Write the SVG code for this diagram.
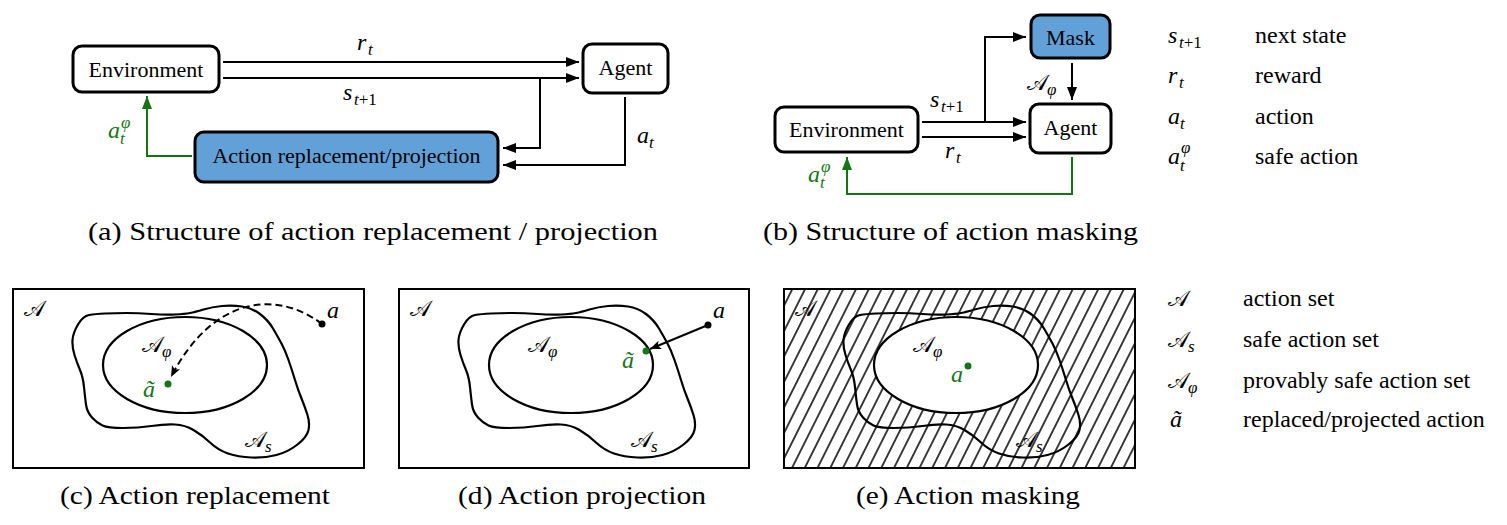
<svg xmlns="http://www.w3.org/2000/svg" xmlns:xlink="http://www.w3.org/1999/xlink" width="1507" height="525" viewBox="0 0 1507 525">
<style>
.box{fill:#fff;stroke:#000;stroke-width:3}
.blue{fill:#62a0d8}
.lbl{font-family:"Liberation Serif","Times New Roman",Times,"DejaVu Serif",serif;font-size:22px;fill:#000}
.m{font-family:"Liberation Serif","Times New Roman",Times,"DejaVu Serif",serif;font-style:italic;font-size:24px;fill:#000}
.s{font-size:17px}
.up{font-style:normal}
.cal{font-family:"DejaVu Serif","DejaVu Sans","Noto Sans",serif;font-style:normal;font-size:22px}
.cap{font-family:"Liberation Serif","Times New Roman",Times,"DejaVu Serif",serif;font-size:25px;fill:#000}
.leg{font-family:"Liberation Serif","Times New Roman",Times,"DejaVu Serif",serif;font-size:24px;fill:#000}
.conn{fill:none;stroke:#000;stroke-width:2}
.g{stroke:#157515}
.gt{fill:#157515}
.frame{fill:none;stroke:#000;stroke-width:2}
.shape{fill:none;stroke:#000;stroke-width:2.2}
</style>
<defs>
<marker id="arr" markerUnits="userSpaceOnUse" markerWidth="14" markerHeight="12" refX="13" refY="5" orient="auto">
<path d="M0,0 L13,5 L0,10 Z" fill="#000"/>
</marker>
<marker id="garr" markerUnits="userSpaceOnUse" markerWidth="14" markerHeight="12" refX="13" refY="5" orient="auto">
<path d="M0,0 L13,5 L0,10 Z" fill="#157515"/>
</marker>
<marker id="sarr" markerUnits="userSpaceOnUse" markerWidth="12" markerHeight="10" refX="11" refY="4.5" orient="auto">
<path d="M0,0 L11,4.5 L0,9 L2.5,4.5 Z" fill="#000"/>
</marker>
<path id="blob" d="M89,315 Q83,316 78,324.5 Q73,333 72.5,340 Q72,347 74.5,355 Q77,363 80,370 Q83,377 84,387 Q85,397 86,404.5 Q87,412 92,417.5 Q97,423 102.5,425.5 Q108,428 123,428 Q138,428 151.5,426 Q165,424 175,424.5 Q185,425 193.5,430 Q202,435 210,442.5 Q218,450 228,453.5 Q238,457 251.5,457.5 Q265,458 276.5,455 Q288,452 297.5,444.5 Q307,437 308.5,430 Q310,423 307.5,415 Q305,407 301.5,398.5 Q298,390 295,380 Q292,370 288.5,360 Q285,350 281.5,343.5 Q278,337 273,328.5 Q268,320 260,314 Q252,308 242,306.5 Q232,305 222,306 Q212,307 203.5,309.5 Q195,312 190,313 Q185,314 175,314.5 Q165,315 151.5,314 Q138,313 126.5,313 Q115,313 105,313.5 Q95,314 89,315 Z"/>
<pattern id="hatch" patternUnits="userSpaceOnUse" width="11.4" height="11.4" patternTransform="rotate(26.6)">
<line x1="5.7" y1="-1" x2="5.7" y2="12.4" stroke="#000" stroke-width="1.5"/>
</pattern>
<clipPath id="clipE"><rect x="784" y="289" width="351" height="179"/></clipPath>
</defs>

<!-- (a) Structure of action replacement / projection -->
<g id="a-environment">
<rect class="box" x="73" y="46" width="146" height="46" rx="9"/>
<text class="lbl" x="146" y="77" text-anchor="middle">Environment</text>
</g>
<g id="a-agent">
<rect class="box" x="583" y="44" width="85" height="49" rx="9"/>
<text class="lbl" x="625.5" y="75" text-anchor="middle">Agent</text>
</g>
<g id="a-action">
<rect class="box blue" x="195" y="132" width="303" height="50" rx="9"/>
<text class="lbl" x="346.5" y="163" text-anchor="middle">Action replacement/projection</text>
</g>
<g id="a-connectors">
<line class="conn" x1="223" y1="62" x2="579" y2="62" marker-end="url(#arr)"/>
<line class="conn" x1="223" y1="78" x2="579" y2="78" marker-end="url(#arr)"/>
<polyline class="conn" points="540,78 540,148 503,148" marker-end="url(#arr)"/>
<polyline class="conn" points="625,97 625,165 503,165" marker-end="url(#arr)"/>
<polyline class="conn g" points="192,156 147,156 147,96" marker-end="url(#garr)"/>
<text class="m" x="357" y="50">r<tspan class="s" x="368" y="55">t</tspan></text>
<text class="m" x="343" y="100">s<tspan class="s" x="354" y="105">t<tspan class="up">+1</tspan></tspan></text>
<text class="m" x="637" y="143">a<tspan class="s" x="649" y="148">t</tspan></text>
<text class="m gt" x="108" y="138">a<tspan class="s" x="121" y="128">φ</tspan><tspan class="s" x="120" y="144">t</tspan></text>
</g>
<text class="cap" x="88" y="240" textLength="570" lengthAdjust="spacingAndGlyphs">(a) Structure of action replacement / projection</text>

<!-- (b) Structure of action masking -->
<g id="b-environment">
<rect class="box" x="775" y="107" width="143" height="45" rx="9"/>
<text class="lbl" x="846.5" y="137" text-anchor="middle">Environment</text>
</g>
<g id="b-agent">
<rect class="box" x="1030" y="104" width="81" height="49" rx="9"/>
<text class="lbl" x="1070.5" y="135" text-anchor="middle">Agent</text>
</g>
<g id="b-mask">
<rect class="box blue" x="1031" y="15" width="79" height="43" rx="9"/>
<text class="lbl" x="1070.5" y="45" text-anchor="middle">Mask</text>
</g>
<g id="b-connectors">
<line class="conn" x1="922" y1="122" x2="1026" y2="122" marker-end="url(#arr)"/>
<polyline class="conn" points="985,122 985,37 1026,37" marker-end="url(#arr)"/>
<line class="conn" x1="922" y1="137" x2="1026" y2="137" marker-end="url(#arr)"/>
<line class="conn" x1="1072" y1="63" x2="1072" y2="100" marker-end="url(#arr)"/>
<polyline class="conn g" points="1072,157 1072,194 847,194 847,157" marker-end="url(#garr)"/>
<text class="m" x="930" y="107">s<tspan class="s" x="941" y="112">t<tspan class="up">+1</tspan></tspan></text>
<text class="m" x="945" y="158">r<tspan class="s" x="956" y="163">t</tspan></text>
<text class="m" x="1027" y="90"><tspan class="cal">𝒜</tspan><tspan class="s" x="1047" y="95">φ</tspan></text>
<text class="m gt" x="808" y="182">a<tspan class="s" x="821" y="172">φ</tspan><tspan class="s" x="820" y="188">t</tspan></text>
</g>
<text class="cap" x="763" y="240" textLength="375" lengthAdjust="spacingAndGlyphs">(b) Structure of action masking</text>

<!-- top legend -->
<g id="legend-top">
<text class="m" x="1168" y="43">s<tspan class="s" x="1179" y="48">t<tspan class="up">+1</tspan></tspan></text>
<text class="leg" x="1255" y="43">next state</text>
<text class="m" x="1168" y="83">r<tspan class="s" x="1179" y="88">t</tspan></text>
<text class="leg" x="1255" y="83">reward</text>
<text class="m" x="1168" y="124">a<tspan class="s" x="1180" y="129">t</tspan></text>
<text class="leg" x="1255" y="124">action</text>
<text class="m" x="1168" y="164">a<tspan class="s" x="1181" y="153">φ</tspan><tspan class="s" x="1180" y="171">t</tspan></text>
<text class="leg" x="1255" y="164">safe action</text>
</g>

<!-- (c) Action replacement -->
<g id="c-panel">
<rect class="frame" x="13" y="289" width="351" height="179"/>
<use xlink:href="#blob" class="shape"/>
<ellipse class="shape" cx="185" cy="365" rx="82" ry="48"/>
<text class="m" x="24" y="316"><tspan class="cal">𝒜</tspan></text>
<text class="m" x="142" y="352"><tspan class="cal">𝒜</tspan><tspan class="s" x="162" y="357">φ</tspan></text>
<text class="m" x="245" y="447"><tspan class="cal">𝒜</tspan><tspan class="s" x="265" y="452">s</tspan></text>
<text class="m gt" x="143" y="397">ã</text>
<text class="m" x="327" y="318">a</text>
<circle cx="322" cy="324" r="3.5" fill="#000"/>
<circle cx="168" cy="384" r="3.5" fill="#157515"/>
<path class="conn" d="M322,324 C276,289 212,297 171,377" stroke-dasharray="7,4" marker-end="url(#sarr)"/>
</g>
<text class="cap" x="60" y="504" textLength="270" lengthAdjust="spacingAndGlyphs">(c) Action replacement</text>

<!-- (d) Action projection -->
<g id="d-panel">
<rect class="frame" x="399" y="289" width="350" height="179"/>
<use xlink:href="#blob" class="shape" transform="translate(386,0)"/>
<ellipse class="shape" cx="571" cy="365" rx="82" ry="48"/>
<text class="m" x="410" y="316"><tspan class="cal">𝒜</tspan></text>
<text class="m" x="528" y="352"><tspan class="cal">𝒜</tspan><tspan class="s" x="548" y="357">φ</tspan></text>
<text class="m" x="631" y="447"><tspan class="cal">𝒜</tspan><tspan class="s" x="651" y="452">s</tspan></text>
<text class="m gt" x="622" y="368">ã</text>
<text class="m" x="713" y="318">a</text>
<circle cx="708" cy="325" r="3.5" fill="#000"/>
<circle cx="646" cy="351" r="3.5" fill="#157515"/>
<line class="conn" x1="708" y1="325" x2="650" y2="349" marker-end="url(#sarr)"/>
</g>
<text class="cap" x="458" y="504" textLength="248" lengthAdjust="spacingAndGlyphs">(d) Action projection</text>

<!-- (e) Action masking -->
<g id="e-panel">
<text class="m" x="795" y="316"><tspan class="cal">𝒜</tspan></text>
<text class="m" x="1016" y="447"><tspan class="cal">𝒜</tspan><tspan class="s" x="1036" y="452">s</tspan></text>
<rect x="784" y="289" width="351" height="179" fill="url(#hatch)" clip-path="url(#clipE)"/>
<ellipse cx="956" cy="365" rx="82" ry="48" fill="#fff"/>
<use xlink:href="#blob" class="shape" transform="translate(771,0)"/>
<ellipse class="shape" cx="956" cy="365" rx="82" ry="48"/>
<rect class="frame" x="784" y="289" width="351" height="179"/>
<text class="m" x="913" y="352"><tspan class="cal">𝒜</tspan><tspan class="s" x="933" y="357">φ</tspan></text>
<text class="m gt" x="951" y="382">a</text>
<circle cx="968" cy="366" r="3.5" fill="#157515"/>
</g>
<text class="cap" x="856" y="504" textLength="224" lengthAdjust="spacingAndGlyphs">(e) Action masking</text>

<!-- bottom legend -->
<g id="legend-bottom">
<text class="m" x="1168" y="306"><tspan class="cal">𝒜</tspan></text>
<text class="leg" x="1243" y="306">action set</text>
<text class="m" x="1168" y="347"><tspan class="cal">𝒜</tspan><tspan class="s" x="1188" y="352">s</tspan></text>
<text class="leg" x="1243" y="347">safe action set</text>
<text class="m" x="1168" y="388"><tspan class="cal">𝒜</tspan><tspan class="s" x="1188" y="393">φ</tspan></text>
<text class="leg" x="1243" y="388">provably safe action set</text>
<text class="m" x="1170" y="427">ã</text>
<text class="leg" x="1243" y="427">replaced/projected action</text>
</g>
</svg>
